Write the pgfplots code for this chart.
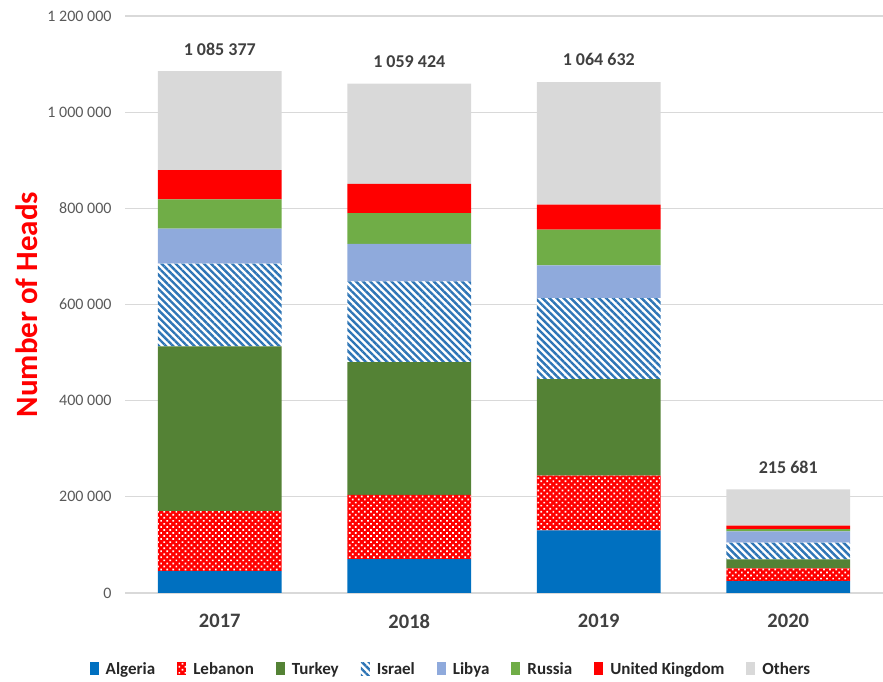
\documentclass[border=0pt]{standalone}
\usepackage{pgfplots}
\pgfplotsset{compat=1.18}
\usepackage{fontspec}
\setmainfont{Carlito}
\usetikzlibrary{patterns,patterns.meta}
\definecolor{cAlg}{HTML}{0070C0}
\definecolor{cLeb}{HTML}{FF0000}
\definecolor{cTur}{HTML}{548235}
\definecolor{cIsr}{HTML}{2E75B6}
\definecolor{cLib}{HTML}{8FAADC}
\definecolor{cRus}{HTML}{70AD47}
\definecolor{cUK}{HTML}{FF0000}
\definecolor{cOth}{HTML}{D9D9D9}
\definecolor{cTick}{HTML}{595959}
\definecolor{cLab}{HTML}{404040}
\pgfplotsset{mylegend/.style={legend image code/.code={\path[##1] (0pt,-6.5pt) rectangle (9pt,6.5pt);}}}
\begin{document}
\begin{tikzpicture}[x=1pt,y=1pt]
\useasboundingbox (0,0) rectangle (883,682);
\begin{axis}[
  at={(125pt,89pt)}, anchor=south west,
  scale only axis, width=758pt, height=577pt,
  ybar stacked, bar width=0.654,
  enlargelimits=false,
  xmin=-0.5, xmax=3.5, ymin=0, ymax=1200000,
  xtick={0,1,2,3}, xticklabels={2017,2018,2019,2020},
  ytick={0,200000,400000,600000,800000,1000000,1200000},
  yticklabels={0,200 000,400 000,600 000,800 000,1 000 000,1 200 000},
  axis line style={draw=none},
  major tick length=0pt,
  ymajorgrids, grid style={draw=cOth, line width=1.2pt},
  yticklabel style={font=\fontsize{16}{16}\selectfont, text=cTick, xshift=-10pt},
  xticklabel style={font=\fontsize{20.5}{20.5}\selectfont\bfseries, text=cLab, yshift=-18pt},
  ylabel={Number of Heads},
  ylabel style={font=\fontsize{31}{31}\selectfont\bfseries, text=red, at={(axis description cs:-0.1293,0.5)}, anchor=center},
  legend columns=-1,
  legend style={at={(axis description cs:0.43,-0.1317)}, anchor=center, draw=none, fill=none,
    font=\fontsize{17}{17}\selectfont\bfseries, text=black!85,
    /tikz/every odd column/.append style={column sep=5pt},
    /tikz/every even column/.append style={column sep=20pt}},
]
\addplot[mylegend, fill=cAlg, draw=none] coordinates {(0,45700) (1,70600) (2,130000) (3,24600)};
\addlegendentry{Algeria}
\addplot[mylegend, fill=cLeb, draw=none, postaction={pattern={Dots[angle=45,distance=4.3pt,radius=1.2pt]}, pattern color=white}] coordinates {(0,124800) (1,133400) (2,114000) (3,26400)};
\addlegendentry{Lebanon}
\addplot[mylegend, fill=cTur, draw=none] coordinates {(0,342500) (1,276000) (2,200700) (3,19000)};
\addlegendentry{Turkey}
\addplot[mylegend, fill=white, draw=none, postaction={pattern={Lines[angle=-45,distance=5pt,line width=2.4pt]}, pattern color=cIsr}] coordinates {(0,171800) (1,168000) (2,168400) (3,35000)};
\addlegendentry{Israel}
\addplot[mylegend, fill=cLib, draw=none] coordinates {(0,72800) (1,78000) (2,68400) (3,23000)};
\addlegendentry{Libya}
\addplot[mylegend, fill=cRus, draw=none] coordinates {(0,61100) (1,64000) (2,74400) (3,5000)};
\addlegendentry{Russia}
\addplot[mylegend, fill=cUK, draw=none] coordinates {(0,60500) (1,61000) (2,52000) (3,7000)};
\addlegendentry{United Kingdom}
\addplot[mylegend, fill=cOth, draw=none] coordinates {(0,206377) (1,208424) (2,254632) (3,75681)};
\addlegendentry{Others}
\end{axis}
\begin{axis}[
  at={(125pt,89pt)}, anchor=south west,
  scale only axis, width=758pt, height=577pt,
  enlargelimits=false, hide axis,
  xmin=-0.5, xmax=3.5, ymin=0, ymax=1200000,
]
\addplot[only marks, mark=none, point meta=explicit symbolic, nodes near coords,
  nodes near coords style={font=\fontsize{18}{18}\selectfont\bfseries, text=cLab, anchor=south, yshift=12pt}]
  coordinates {(0,1085377)[1 085 377] (1,1059424)[1 059 424] (2,1064632)[1 064 632] (3,215681)[215 681]};
\end{axis}
\end{tikzpicture}
\end{document}
